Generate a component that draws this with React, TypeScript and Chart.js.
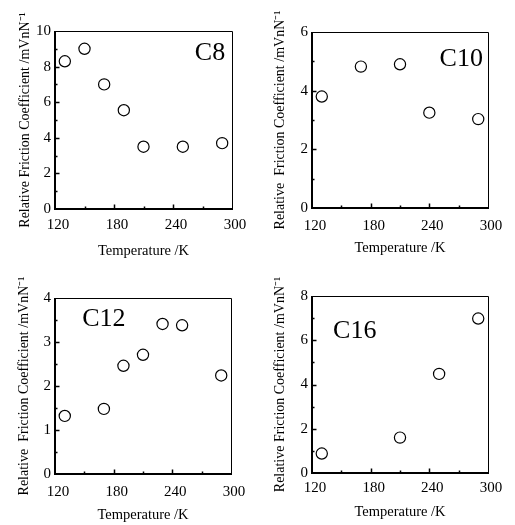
import React, { useEffect, useRef } from "react";
import { Chart, registerables } from "chart.js";

Chart.register(...registerables);

// ---- data ----
const xTickLabels = ["120", "180", "240", "300"];
const c8Temps = [130, 150, 170, 190, 210, 250, 290];
const c8Values = [8.3, 9.0, 7.0, 5.55, 3.5, 3.5, 3.7];
const c10Temps = [130, 170, 210, 240, 290];
const c10Values = [3.8, 4.82, 4.9, 3.25, 3.03];
const c12Temps = [130, 170, 190, 210, 230, 250, 290];
const c12Values = [1.32, 1.48, 2.46, 2.71, 3.41, 3.38, 2.24];
const c16Temps = [130, 210, 250, 290];
const c16Values = [0.88, 1.6, 4.48, 6.98];
const panelNames = ["C8", "C10", "C12", "C16"];
const yMaxValues = [10, 6, 4, 8];
const yMinorSteps = [1, 1, 0.5, 1];
const yMajorSteps = [2, 2, 1, 2];

const X_MIN = 120;
const X_MAX = 300;
const X_MINOR = 30;
const X_MAJOR = 60;

const FONT = '"Liberation Serif", "Times New Roman", serif';

type Panel = {
  name: string;
  temps: number[];
  values: number[];
  yMax: number;
  yMinor: number;
  yMajor: number;
  yTitle: string;
  // layout
  left: number;
  top: number;
  w: number;
  h: number;
  plotLeft: number;
  plotTop: number;
  plotRight: number;
  plotBottom: number;
  xTickPad: number;
  xTitlePad: number;
  yTitlePad: number;
  labelAt: [number, number];
};

const panels: Panel[] = [
  {
    name: panelNames[0], temps: c8Temps, values: c8Values,
    yMax: yMaxValues[0], yMinor: yMinorSteps[0], yMajor: yMajorSteps[0],
    yTitle: "Relative Friction Coefficient /mVnN\u207B\u00B9",
    left: 0, top: 0, w: 257, h: 262,
    plotLeft: 55, plotTop: 31, plotRight: 232, plotBottom: 209,
    xTickPad: 7.4, xTitlePad: 2.3, yTitlePad: 17, labelAt: [277.6, 8.76],
  },
  {
    name: panelNames[1], temps: c10Temps, values: c10Values,
    yMax: yMaxValues[1], yMinor: yMinorSteps[1], yMajor: yMajorSteps[1],
    yTitle: "Relative  Friction Coefficient /mVnN\u207B\u00B9",
    left: 257, top: 0, w: 258, h: 262,
    plotLeft: 55, plotTop: 32, plotRight: 231, plotBottom: 208,
    xTickPad: 9.4, xTitlePad: 5, yTitlePad: 14.6, labelAt: [272.6, 5.06],
  },
  {
    name: panelNames[2], temps: c12Temps, values: c12Values,
    yMax: yMaxValues[2], yMinor: yMinorSteps[2], yMajor: yMajorSteps[2],
    yTitle: "Relative  Friction Coefficient /mVnN\u207B\u00B9",
    left: 0, top: 262, w: 257, h: 263,
    plotLeft: 55, plotTop: 36, plotRight: 231, plotBottom: 212,
    xTickPad: 9.4, xTitlePad: 1.3, yTitlePad: 16, labelAt: [170, 3.52],
  },
  {
    name: panelNames[3], temps: c16Temps, values: c16Values,
    yMax: yMaxValues[3], yMinor: yMinorSteps[3], yMajor: yMajorSteps[3],
    yTitle: "Relative Friction Coefficient /mVnN\u207B\u00B9",
    left: 257, top: 262, w: 258, h: 263,
    plotLeft: 55, plotTop: 34, plotRight: 231, plotBottom: 211,
    xTickPad: 6.4, xTitlePad: 4.6, yTitlePad: 15, labelAt: [163.7, 6.4],
  },
];

const isMult = (v: number, step: number) => Math.abs(v / step - Math.round(v / step)) < 1e-6;

const framePlugin = {
  id: "frame",
  afterDraw(chart: any, _args: any, opts: any) {
    const { ctx, chartArea } = chart;
    const { left, right, top, bottom } = chartArea;
    const xs = chart.scales.x;
    const ys = chart.scales.y;
    ctx.save();
    ctx.strokeStyle = "#000";
    ctx.lineWidth = 1;
    ctx.beginPath();
    ctx.moveTo(left, top + 0.5);
    ctx.lineTo(right + 0.5, top + 0.5);
    ctx.lineTo(right + 0.5, bottom);
    ctx.stroke();
    ctx.lineWidth = 2;
    ctx.beginPath();
    ctx.moveTo(left, top);
    ctx.lineTo(left, bottom);
    ctx.lineTo(right + 1, bottom);
    ctx.stroke();
    ctx.lineWidth = 1.5;
    ctx.beginPath();
    xs.ticks.forEach((t: any) => {
      if (t.value <= X_MIN || t.value >= X_MAX) return;
      const px = Math.round(xs.getPixelForValue(t.value)) + 0.5;
      const len = isMult(t.value - X_MIN, X_MAJOR) ? 4.5 : 2.5;
      ctx.moveTo(px, bottom);
      ctx.lineTo(px, bottom - len);
    });
    ys.ticks.forEach((t: any) => {
      if (t.value <= 0 || t.value >= opts.yMax) return;
      const py = Math.round(ys.getPixelForValue(t.value)) + 0.5;
      const len = isMult(t.value, opts.yMajor) ? 4.5 : 2.5;
      ctx.moveTo(left, py);
      ctx.lineTo(left + len, py);
    });
    ctx.stroke();
    ctx.fillStyle = "#000";
    ctx.font = `26px ${FONT}`;
    ctx.textAlign = "center";
    ctx.textBaseline = "middle";
    ctx.fillText(opts.text, xs.getPixelForValue(opts.lx), ys.getPixelForValue(opts.ly));
    ctx.restore();
  },
};

function PanelChart({ p }: { p: Panel }) {
  const ref = useRef<HTMLCanvasElement | null>(null);
  useEffect(() => {
    if (!ref.current) return;
    const chart = new Chart(ref.current, {
      type: "scatter",
      data: {
        datasets: [
          {
            data: p.temps.map((t, i) => ({ x: t, y: p.values[i] })),
            pointRadius: 5.6,
            pointBorderWidth: 1.2,
            pointBackgroundColor: "#fff",
            pointBorderColor: "#000",
            showLine: false,
          },
        ],
      },
      plugins: [framePlugin as any],
      options: {
        responsive: false,
        animation: false,
        devicePixelRatio: 1,
        layout: {
          padding: { left: 0, top: p.plotTop, right: p.w - p.plotRight, bottom: 0 },
        },
        plugins: {
          legend: { display: false },
          tooltip: { enabled: false },
          frame: { text: p.name, lx: p.labelAt[0], ly: p.labelAt[1], yMax: p.yMax, yMajor: p.yMajor },
        } as any,
        scales: {
          x: {
            type: "linear",
            min: X_MIN,
            max: X_MAX,
            grid: { display: false, drawTicks: false },
            border: { display: false },
            afterFit: (s: any) => {
              s.height = p.h - p.plotBottom;
            },
            ticks: {
              stepSize: X_MINOR,
              autoSkip: false,
              maxRotation: 0,
              padding: p.xTickPad,
              labelOffset: 3,
              color: "#000",
              font: { family: FONT, size: 15 },
              callback: (v: any) => {
                const s = String(v);
                return xTickLabels.includes(s) ? s : "";
              },
            },
            title: {
              display: true,
              text: "Temperature /K",
              color: "#000",
              font: { family: FONT, size: 14.5 },
              padding: { top: 0, bottom: p.xTitlePad },
            },
          },
          y: {
            type: "linear",
            min: 0,
            max: p.yMax,
            grid: { display: false, drawTicks: false },
            border: { display: false },
            afterFit: (s: any) => {
              s.width = p.plotLeft;
            },
            ticks: {
              stepSize: p.yMinor,
              autoSkip: false,
              padding: 4,
              color: "#000",
              font: { family: FONT, size: 15 },
              callback: (v: any) => (isMult(Number(v), p.yMajor) ? String(v) : ""),
            },
            title: {
              display: true,
              text: p.yTitle,
              color: "#000",
              font: { family: FONT, size: 14 },
              padding: { top: p.yTitlePad, bottom: 0 },
            },
          },
        },
      },
    });
    return () => chart.destroy();
  }, [p]);
  return (
    <canvas
      ref={ref}
      width={p.w}
      height={p.h}
      style={{ position: "absolute", left: p.left, top: p.top, width: p.w, height: p.h }}
    />
  );
}

export default function App() {
  return (
    <div
      style={{
        position: "absolute",
        left: 0,
        top: 0,
        width: 515,
        height: 525,
        overflow: "hidden",
        background: "#fff",
      }}
    >
      {panels.map((p) => (
        <PanelChart key={p.name} p={p} />
      ))}
    </div>
  );
}
